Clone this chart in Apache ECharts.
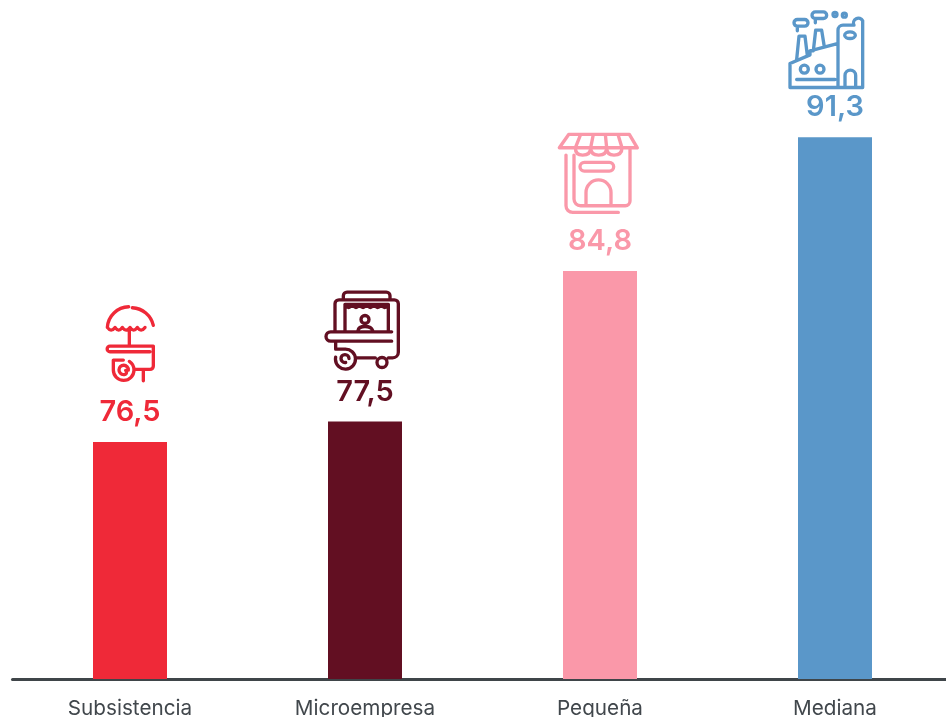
<!DOCTYPE html>
<html>
<head>
<meta charset="utf-8">
<title>Chart</title>
<script src="https://cdn.jsdelivr.net/npm/echarts@6/dist/echarts.min.js"></script>
<style>
  html, body { margin: 0; padding: 0; background: #fff; overflow: hidden; }
  #chart { width: 946px; height: 717px; }
</style>
</head>
<body>
<div id="chart"></div>
<script>
const categories = ["Subsistencia", "Microempresa", "Pequeña", "Mediana"];
const values = [76.5, 77.5, 84.8, 91.3];
const barColors = ["#EF2938", "#620F22", "#FA98A9", "#5A97C9"];

// iconos dibujados a 3x, origen en la esquina de cada recorte
const iconOffsets = [[-40, -152], [-45, -141], [-50, -146], [-55, -137]];
const iconPaths = [
  // carrito con sombrilla
  "M52 112 A66 66 0 0 1 116 50 M127 53 A68 68 0 0 1 190 106 " +
  "M52 112 q11 16 23 0 q11 16 22 0 q11 16 23 0 q11 16 22 0 q11 16 23 0 " +
  "M118 118 V166 M190 168 H60 a8.5 8.5 0 0 0 0 17 H180 " +
  "M190 168 V228 a10 10 0 0 1 -10 10 H132 M70 210 H100 M70 210 V240 " +
  "A31 31 0 1 0 118 214 M115 240 a14 14 0 1 0 -10 13 a7 7 0 0 0 2 -12 M160 238 V272",
  // carrito de comida
  "M70 58 V46 a11 11 0 0 1 11 -11 H199 a11 11 0 0 1 11 11 V58 " +
  "M45 150 V70 a12 12 0 0 1 12 -12 H223 a12 12 0 0 1 12 12 V215 a17 17 0 0 1 -17 17 H205 " +
  "M75 150 V72 M205 150 V72 M75 72 H205 M75 72 q11 18 22 0 q11 18 22 0 q10 18 21 0 q11 18 22 0 q11 18 21 0 q11 18 22 0 " +
  "M215 154 H32 a14 14 0 0 0 0 28 H215 M147 117 a12 12 0 1 1 -24 0 a12 12 0 1 1 24 0 " +
  "M114 150 q2 -12 21 -12 q19 0 23 12 M47 184 V206 M106 232 H166 M201 246 a15 15 0 1 1 -30 0 a15 15 0 1 1 30 0 " +
  "M48 206 H75 a30 30 0 1 1 -28 24 M87 234 a12 12 0 1 0 -10 12",
  // tienda
  "M56 28 H238 L262 68 H28 Z M92 28 L76 68 M130 28 L122 68 M166 28 L170 68 M204 28 L216 68 " +
  "M76 68 q0 22 22 22 q24 0 24 -22 q0 22 24 22 q24 0 24 -22 q0 22 22 22 q24 0 24 -22 " +
  "M240 74 V228 a14 14 0 0 1 -14 14 H92 a20 20 0 0 1 -20 -20 V90 " +
  "M48 90 V242 a20 20 0 0 0 20 20 H205 " +
  "M103 112 H178 a13 13 0 0 1 0 26 H103 a13 13 0 0 1 0 -26 Z " +
  "M108 240 V202 a37 37 0 0 1 75 0 V236",
  // fabrica
  "M52 58 H74 a10 10 0 0 1 0 20 H52 a10 10 0 0 1 0 -20 Z M52 84 V92 " +
  "M106 35 H130 a10 10 0 0 1 0 20 H106 a10 10 0 0 1 0 -20 Z M106 60 V68 " +
  "M171 43 a6 6 0 1 1 -12 0 a6 6 0 1 1 12 0 M199 45 a6 6 0 1 1 -12 0 a6 6 0 1 1 12 0 " +
  "M50 178 L57 108 H75 L82 166 M100 152 L107 90 H125 L133 140 " +
  "M30 262 V190 L90 164 V152 L172 130 M30 262 H248 " +
  "M85 207 a12 12 0 1 1 -24 0 a12 12 0 1 1 24 0 M132 207 a12 12 0 1 1 -24 0 a12 12 0 1 1 24 0 M50 238 H165 " +
  "M174 262 V90 a15 15 0 0 1 15 -15 H222 a13 13 0 0 1 26 -13 V262 " +
  "M226 105 a16 10 0 1 1 -32 0 a16 10 0 1 1 32 0 M195 262 V226 a16 16 0 0 1 32 0 V262"
];

const myChart = echarts.init(document.getElementById("chart"));

const option = {
  animation: false,
  backgroundColor: "#ffffff",
  grid: { left: 12.5, top: 0, width: 940, height: 679, outerBoundsMode: "none" },
  xAxis: {
    type: "category",
    data: categories,
    axisTick: { show: false },
    axisLine: { show: true, lineStyle: { color: "#3F4549", width: 3 } },
    axisLabel: {
      interval: 0,
      margin: 19,
      color: "#41474C",
      fontFamily: "Inter",
      fontSize: 20.7,
    },
  },
  yAxis: { type: "value", min: 65, max: 97.96, show: false },
  series: [
    {
      type: "bar",
      barWidth: 74,
      data: values.map((v, i) => ({ value: v, itemStyle: { color: barColors[i] } })),
      label: {
        show: true,
        position: "top",
        distance: 15,
        fontFamily: "Inter",
        fontWeight: 600,
        fontSize: 29,
        formatter: (p) => String(p.value).replace(".", ","),
        color: "inherit",
      },
    },
    {
      type: "custom",
      clip: false,
      silent: true,
      data: values.map((v, i) => [i, v]),
      encode: { x: 0, y: 1 },
      renderItem: (params, api) => {
        const i = api.value(0);
        const p = api.coord([i, api.value(1)]);
        return {
          type: "group",
          x: p[0] + iconOffsets[i][0],
          y: p[1] + iconOffsets[i][1],
          scaleX: 1 / 3,
          scaleY: 1 / 3,
          children: [
            {
              type: "path",
              shape: { pathData: iconPaths[i] },
              style: {
                fill: "none",
                stroke: barColors[i],
                lineWidth: 10,
                lineCap: "round",
                lineJoin: "round",
              },
            },
          ],
        };
      },
    },
  ],
};

myChart.setOption(option);
</script>
</body>
</html>
